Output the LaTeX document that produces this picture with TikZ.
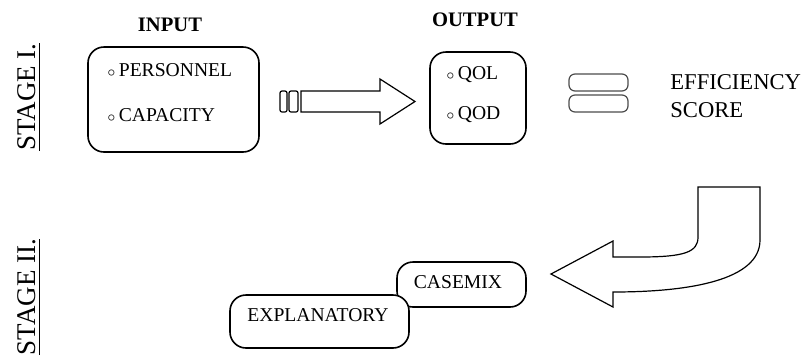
\documentclass[tikz,border=0pt]{standalone}
\usepackage{fontspec}
\setmainfont{Liberation Serif}
\usetikzlibrary{positioning}
\begin{document}
\begin{tikzpicture}[x=0.5pt,y=-0.5pt,
  box/.style={draw=black,thick,rounded corners=8pt,inner sep=0pt},
  item/.style={anchor=west,inner sep=0pt,font=\fontsize{9.8}{12}\selectfont},
  head/.style={inner sep=0pt,font=\fontsize{10.3}{12}\selectfont\bfseries},
  stage/.style={rotate=90,inner sep=0pt,font=\fontsize{13.5}{16}\selectfont},
  bar/.style={draw=black,semithick,rounded corners=1pt},
  eqbar/.style={draw=black!70,semithick,rounded corners=3pt}]
\useasboundingbox (0,0) rectangle (809,355);
% \draw[help lines] (0,0) grid (809,355);
\node (s1) [stage] at (29,97) {\underline{STAGE I.}};
\node (s2) [stage] at (29,297) {\underline{STAGE II.}};
%
\node (inhead) [head] at (170,25) {INPUT};
\node (inbox) [box,minimum width=85.5pt,minimum height=52.5pt] at (173.5,99.5) {};
\node (pers) [item] at (107,70) {$\scriptstyle\circ$\,PERSONNEL};
\node (capa) [item] at (107,115) {$\scriptstyle\circ$\,CAPACITY};
%
\draw[bar] (280,91) rectangle (287,112);
\draw[bar] (289,91) rectangle (298,112);
\draw[semithick] (301,91) -- (380,91) -- (380,79) -- (415,101.5) -- (380,124)
  -- (380,112) -- (301,112) -- cycle;
%
\node (outhead) [head] at (475,20) {OUTPUT};
\node (outbox) [box,minimum width=48pt,minimum height=46pt] at (478,98) {};
\node (qol) [item] at (446,75) {$\scriptstyle\circ$\,QOL};
\node (qod) [item] at (446,115) {$\scriptstyle\circ$\,QOD};
%
\draw[eqbar] (569,74) rectangle (628,91);
\draw[eqbar] (569,95) rectangle (628,112);
\node (eff) [item,align=left,font=\fontsize{11.3}{14}\selectfont] at (670,96) {EFFICIENCY\\SCORE};
%
\draw[semithick] (551,274) -- (613,241) -- (613,257) -- (640,257)
  .. controls (685,257) and (698,252) .. (698,237) -- (698,187) -- (760,187)
  -- (760,240) .. controls (760,280) and (690,292) .. (613,292)
  -- (613,307) -- cycle;
%
\node (casemix) [box,minimum width=64.5pt,minimum height=22.5pt] at (461.5,284.5) {};
\node (castext) [item,anchor=center] at (458,282) {CASEMIX};
\node (expl) [box,fill=white,minimum width=89.5pt,minimum height=26.5pt] at (319.5,321.5) {};
\node (expltext) [item,anchor=center] at (318,315) {EXPLANATORY};
\end{tikzpicture}
\end{document}
